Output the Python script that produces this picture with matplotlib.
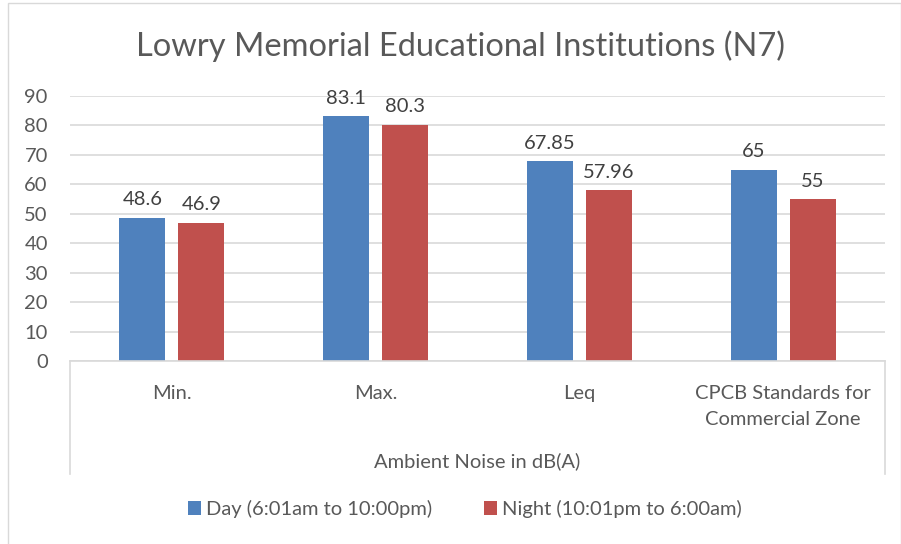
import matplotlib.pyplot as plt
import numpy as np
from matplotlib.patches import Rectangle

plt.rcParams['font.family'] = ['Lato', 'DejaVu Sans']

# --- data ---
categories = ['Min.', 'Max.', 'Leq', 'CPCB Standards for\nCommercial Zone']
group_label = 'Ambient Noise in dB(A)'
day_vals = [48.6, 83.1, 67.85, 65]
night_vals = [46.9, 80.3, 57.96, 55]
day_txt = ['48.6', '83.1', '67.85', '65']
night_txt = ['46.9', '80.3', '57.96', '55']
series_names = ['Day (6:01am to 10:00pm)', 'Night (10:01pm to 6:00am)']
yticks = [0, 10, 20, 30, 40, 50, 60, 70, 80, 90]

BLUE = '#4F81BD'
RED = '#C0504D'
TXT = '#595959'
GRID = '#D9D9D9'

W, H = 901, 544
fig = plt.figure(figsize=(W / 100, H / 100), dpi=100)

# chart outer border
fig.patches.append(Rectangle((8 / W, -0.05), (W - 8) / W, 1 - 3 / H + 0.05,
                             transform=fig.transFigure, fill=False,
                             edgecolor=GRID, linewidth=1))

ax_l, ax_r, ax_b, ax_t = 70, 885, 361, 96
ax = fig.add_axes([ax_l / W, 1 - ax_b / H, (ax_r - ax_l) / W, (ax_b - ax_t) / H])

x = np.arange(len(categories))
bw = 0.225
off = 0.145
b1 = ax.bar(x - off, day_vals, bw, color=BLUE, label=series_names[0])
b2 = ax.bar(x + off, night_vals, bw, color=RED, label=series_names[1])

for rect, t in zip(b1, day_txt):
    ax.text(rect.get_x() + rect.get_width() / 2, rect.get_height() + 3.2, t,
            ha='center', va='bottom', fontsize=14.5, color='#404040')
for rect, t in zip(b2, night_txt):
    ax.text(rect.get_x() + rect.get_width() / 2, rect.get_height() + 3.2, t,
            ha='center', va='bottom', fontsize=14.5, color='#404040')

ax.set_xlim(-0.5, len(categories) - 0.5)
ax.set_ylim(0, 90)
ax.set_yticks(yticks)
ax.yaxis.grid(True, color=GRID, linewidth=1.2)
ax.set_axisbelow(True)
for s in ['top', 'right', 'left']:
    ax.spines[s].set_visible(False)
ax.spines['bottom'].set_color(GRID)
ax.spines['bottom'].set_linewidth(1.2)
ax.tick_params(axis='y', length=0, pad=16, labelsize=14.5, labelcolor=TXT)
ax.tick_params(axis='x', length=0)
ax.set_xticks(x)
ax.set_xticklabels([])

# multi-level category labels
for xi, c in zip(x, categories):
    ax.text(xi, -8.2, c, ha='center', va='top', fontsize=14.5, color=TXT,
            linespacing=1.6)
ax.text(1.5, -34, group_label, ha='center', va='center', fontsize=14.5, color=TXT)
for xe in [-0.5, len(categories) - 0.5]:
    ax.plot([xe, xe], [0, -38.5], color=GRID, linewidth=1.2, clip_on=False)

fig.text(461 / W, 1 - 46 / H, 'Lowry Memorial Educational Institutions (N7)',
         ha='center', va='center', fontsize=23.5, color=TXT)

fig.legend(handles=[b1, b2], labels=series_names, loc='center',
           bbox_to_anchor=(465 / W, 1 - 509 / H), ncol=2, frameon=False,
           fontsize=14.5, labelcolor=TXT, handlelength=0.65, handleheight=0.65,
           handletextpad=0.25, columnspacing=2.6)

fig.savefig('out.png', dpi=100)
